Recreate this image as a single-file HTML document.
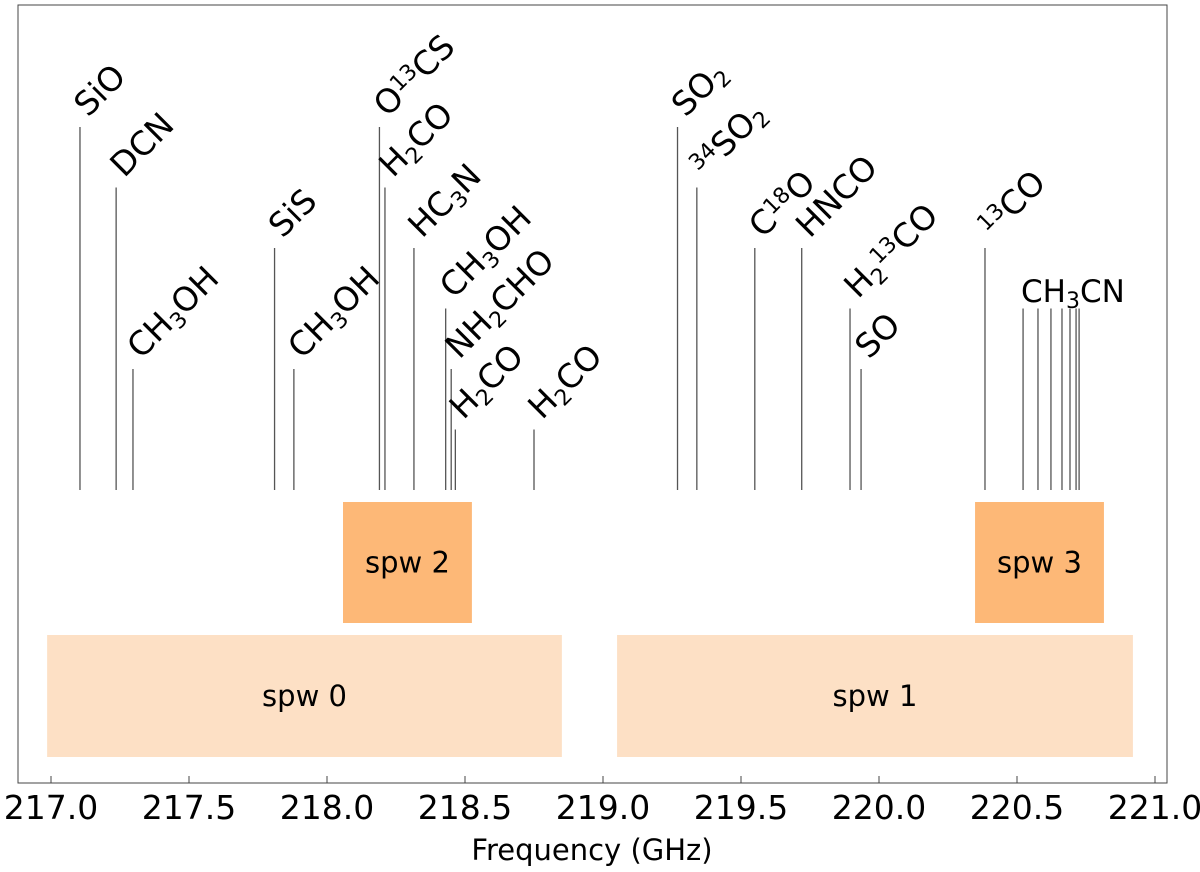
<!DOCTYPE html>
<html><head><meta charset="utf-8"><style>
html,body{margin:0;padding:0;background:#fff}
svg{display:block;font-family:"DejaVu Sans","Liberation Sans",sans-serif}
</style></head><body>
<svg id="chart" width="1200" height="872" viewBox="0 0 1200 872">
<rect x="18" y="5" width="1149" height="778" fill="none" stroke="#444" stroke-width="1"/>
<g id="boxes"></g>
<g id="lines"></g>
<g id="axis"></g>
<text x="592" y="860" text-anchor="middle" font-size="29" fill="#000">Frequency (GHz)</text>
</svg>
<script>
const lineLabels=["SiO","DCN","CH|3|OH","SiS","CH|3|OH","O^13^CS","H|2|CO","HC|3|N","CH|3|OH","NH|2|CHO","H|2|CO","H|2|CO","SO|2|","^34^SO|2|","C^18^O","HNCO","H|2|^13^CO","SO","^13^CO","","","","","","",""];
const lineFreqs=[217.105,217.236,217.297,217.81,217.88,218.19,218.21,218.315,218.43,218.45,218.465,218.75,219.27,219.34,219.55,219.72,219.895,219.935,220.384,220.522,220.576,220.623,220.663,220.692,220.714,220.725];
const lineHeights=[6,5,2,4,2,6,5,4,3,2,1,1,6,5,4,4,3,2,4,3,3,3,3,3,3,3];
const spwNames=["spw 0","spw 1","spw 2","spw 3"];
const spwStart=[216.986,219.051,218.058,220.348];
const spwEnd=[218.851,220.92,218.525,220.815];
const spwRow=[0,0,1,1];
const ticks=[217.0,217.5,218.0,218.5,219.0,219.5,220.0,220.5,221.0];

const NS="http://www.w3.org/2000/svg";
const xs=f=>51+(f-217)*276;
const ys=h=>490-60.5*h;
function mk(tag,attrs,parent){const e=document.createElementNS(NS,tag);for(const k in attrs)e.setAttribute(k,attrs[k]);parent.appendChild(e);return e;}
function richText(t,str){
  const re=/(\|[^|]*\||\^[^^]*\^|[^|^]+)/g;let m;
  while((m=re.exec(str))){
    const s=m[0];const ts=document.createElementNS(NS,"tspan");
    if(s[0]==="|"){ts.textContent=s.slice(1,-1);ts.setAttribute("baseline-shift","-25%");ts.setAttribute("font-size","22");}
    else if(s[0]==="^"){ts.textContent=s.slice(1,-1);ts.setAttribute("baseline-shift","45%");ts.setAttribute("font-size","22");}
    else ts.textContent=s;
    t.appendChild(ts);
  }
}
const gb=document.getElementById("boxes");
spwNames.forEach((n,i)=>{
  const x0=xs(spwStart[i]),x1=xs(spwEnd[i]);
  const y0=spwRow[i]===0?635:502,h=spwRow[i]===0?122:121;
  const r=mk("rect",{x:x0,y:y0,width:x1-x0,height:h,fill:spwRow[i]===0?"#fde0c5":"#fdb877"},gb);
  
  
  const t=mk("text",{x:(x0+x1)/2,y:y0+h/2+10,"text-anchor":"middle","font-size":29,fill:"#000"},gb);
  t.textContent=n;
  
  
});
const gl=document.getElementById("lines");
lineFreqs.forEach((f,i)=>{
  const x=xs(f),y=ys(lineHeights[i]);
  const l=mk("line",{x1:x,x2:x,y1:490,y2:y,stroke:"#555","stroke-width":1.3},gl);
  
  
  if(lineLabels[i]){
    const tx=x+8,ty=y-9;
    const t=mk("text",{x:tx,y:ty,"font-size":33,fill:"#000",transform:`rotate(-45 ${tx} ${ty})`},gl);
    richText(t,lineLabels[i]);
    
    
  }
});
const ch=mk("text",{x:1021,y:302,"font-size":31,fill:"#000"},gl);
richText(ch,"CH|3|CN");


const ga=document.getElementById("axis");
ticks.forEach((v,i)=>{
  const x=xs(v);
  const tk=mk("line",{x1:x,x2:x,y1:776,y2:783,stroke:"#444","stroke-width":1},ga);
  
  
  const t=mk("text",{x:x,y:819,"text-anchor":"middle","font-size":33,fill:"#000"},ga);
  t.textContent=v.toFixed(1);
  
  
});
</script>
</body></html>
